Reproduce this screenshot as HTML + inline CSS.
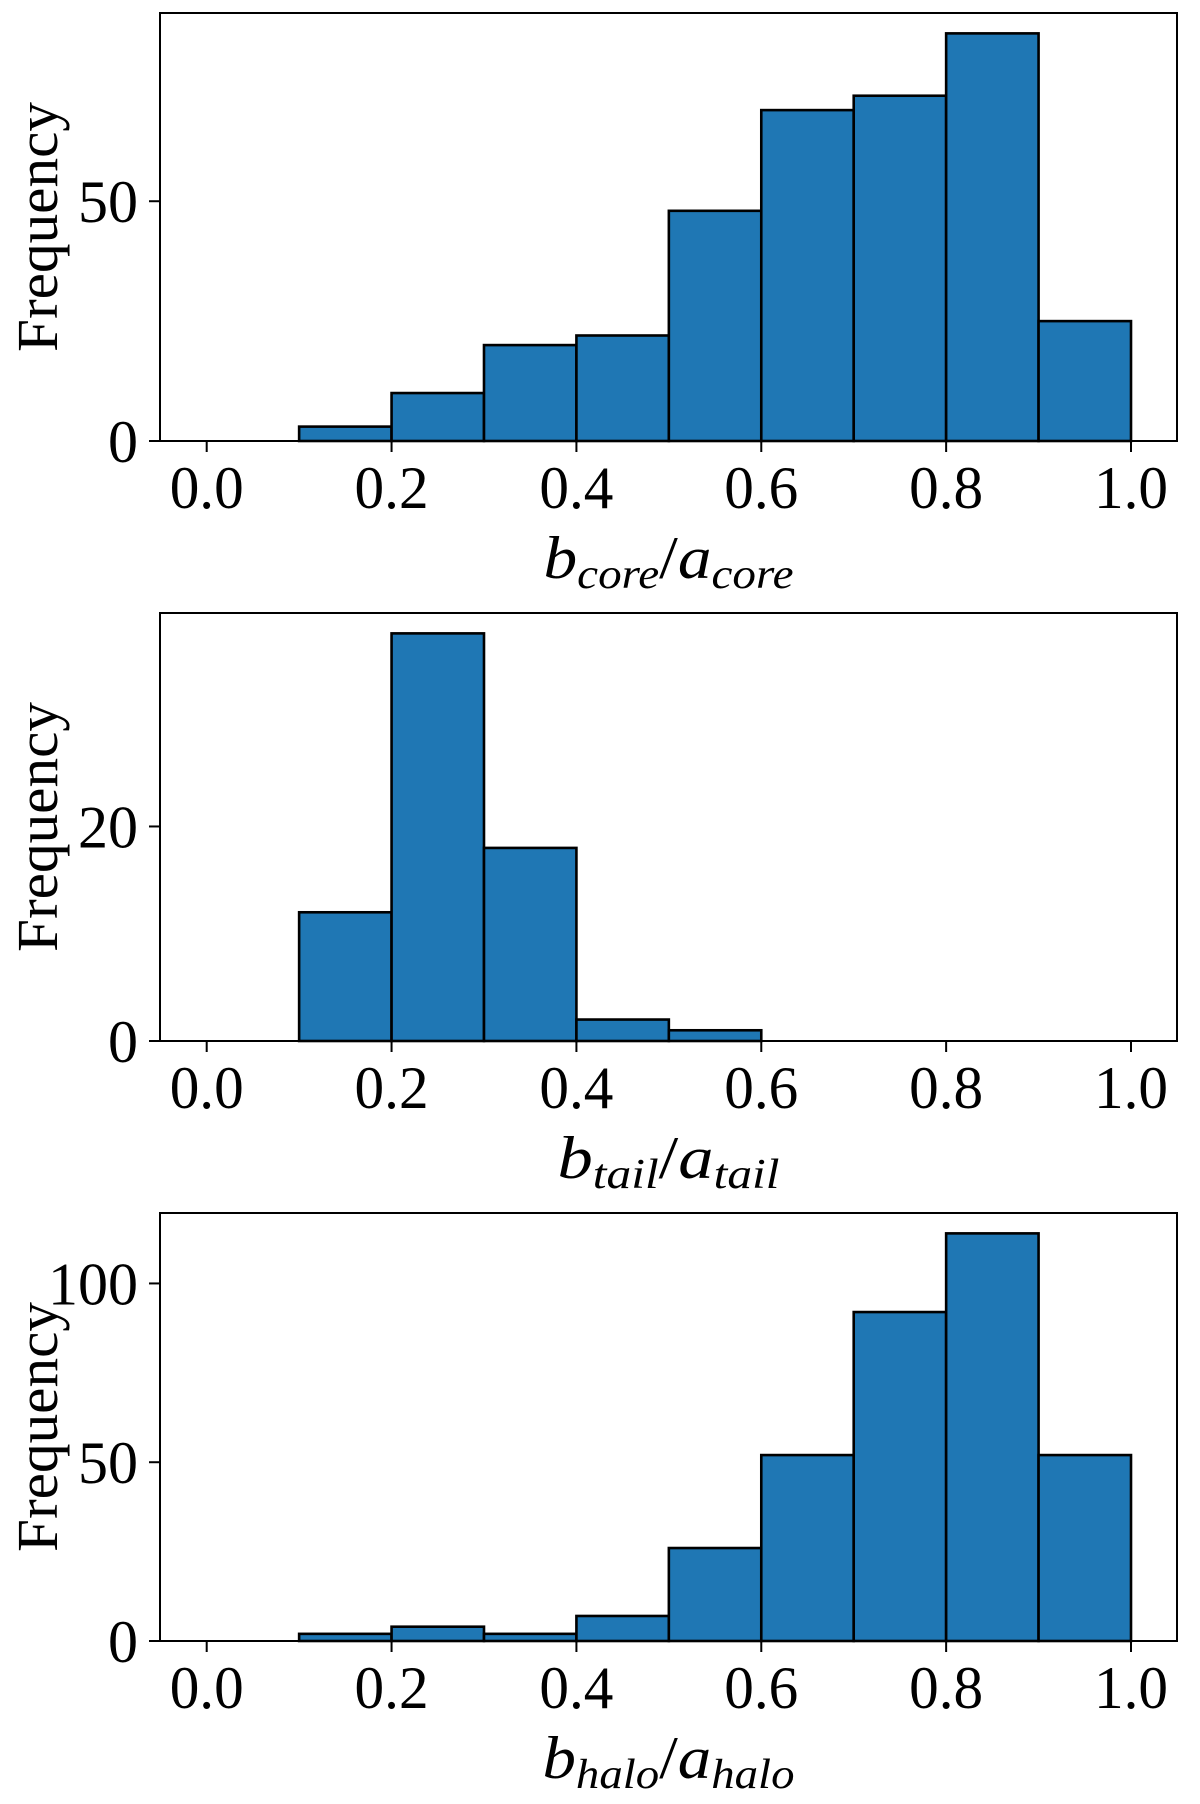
<!DOCTYPE html>
<html><head><meta charset="utf-8"><style>
html,body{margin:0;padding:0;background:#fff;}
svg{display:block;font-family:"Liberation Serif",serif;}
</style></head><body>
<svg id="fig" width="1200" height="1804" viewBox="0 0 1200 1804" xmlns="http://www.w3.org/2000/svg"></svg>
<script>
const binEdges = [0.0,0.1,0.2,0.3,0.4,0.5,0.6,0.7,0.8,0.9,1.0];
const xTickValues = [0.0,0.2,0.4,0.6,0.8,1.0];
const xTickLabels = ["0.0","0.2","0.4","0.6","0.8","1.0"];
const coreCounts = [0,3,10,20,22,48,69,72,85,25];
const tailCounts = [0,12,38,18,2,1,0,0,0,0];
const haloCounts = [0,2,4,2,7,26,52,92,114,52];
const coreYTicks = [0,50];
const tailYTicks = [0,20];
const haloYTicks = [0,50,100];

const NS = "http://www.w3.org/2000/svg";
const svg = document.getElementById('fig');
function mk(tag, attrs, parent){
  const e = document.createElementNS(NS, tag);
  for (const k in attrs) e.setAttribute(k, attrs[k]);
  (parent||svg).appendChild(e);
  return e;
}
const L = 160, R = 1177, H = 428;
const x0 = 206.7, x1 = 1131;
function xs(v){ return x0 + (x1 - x0) * v; }

const panels = [
  {top:13, counts:coreCounts, ticks:coreYTicks, name:'core', sub:'core', len:250},
  {top:613, counts:tailCounts, ticks:tailYTicks, name:'tail', sub:'tail', len:222},
  {top:1213, counts:haloCounts, ticks:haloYTicks, name:'halo', sub:'halo', len:252}
];

panels.forEach(p => {
  const g = mk('g', {});
  
  
  const bottom = p.top + H;
  const ymax = 1.05 * Math.max(...p.counts);
  const ys = v => bottom - H * v / ymax;
  p.counts.forEach((c, i) => {
    const xa = xs(binEdges[i]), xb = xs(binEdges[i+1]);
    const r = mk('rect', {x:xa, y:ys(c), width:xb-xa, height:bottom-ys(c), fill:'#1f77b4', stroke:'#000', 'stroke-width':2.6}, g);
    
    
  });
  const fr = mk('rect', {x:L, y:p.top, width:R-L, height:H, fill:'none', stroke:'#000', 'stroke-width':2}, g);
  
  
  xTickValues.forEach((v, i) => {
    const x = xs(v);
    mk('line', {x1:x, x2:x, y1:bottom, y2:bottom+11, stroke:'#000', 'stroke-width':2}, g);
    const t = mk('text', {x:x, y:bottom+67, 'font-size':60, 'text-anchor':'middle', textLength:74, lengthAdjust:'spacingAndGlyphs'}, g);
    t.textContent = xTickLabels[i];
    
    
  });
  p.ticks.forEach(v => {
    const y = ys(v);
    mk('line', {x1:L-11, x2:L, y1:y, y2:y, stroke:'#000', 'stroke-width':2}, g);
    const t = mk('text', {x:138, y:y+21, 'font-size':60, 'text-anchor':'end'}, g);
    t.textContent = String(v);
    
    
  });
  const cy = p.top + H/2;
  const yl = mk('text', {x:0, y:0, 'font-size':58, 'text-anchor':'middle', transform:'translate(57,' + cy + ') rotate(-90)', textLength:250, lengthAdjust:'spacingAndGlyphs'}, g);
  yl.textContent = 'Frequency';
  
  
  const xl = mk('text', {x:(L+R)/2, y:bottom+137, 'font-size':60, 'text-anchor':'middle', 'font-style':'italic', textLength:p.len, lengthAdjust:'spacingAndGlyphs'}, g);
  
  
  const parts = [['b',0,60],[p.sub,10,42],['/',-10,60],['a',0,60],[p.sub,10,42]];
  parts.forEach(([s,dy,fs]) => {
    const ts = mk('tspan', {dy:dy, 'font-size':fs}, xl);
    if (s === '/') ts.setAttribute('font-style','normal');
    ts.textContent = s;
  });
});
</script>
</body></html>
